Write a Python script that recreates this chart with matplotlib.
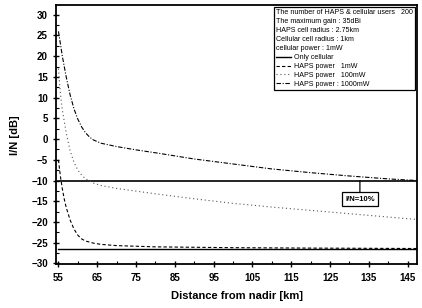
import matplotlib
matplotlib.use("Agg")
import matplotlib.pyplot as plt
from matplotlib.ticker import MultipleLocator

plt.rcParams['font.family'] = ['Liberation Sans', 'DejaVu Sans']

x_1w = [55, 55.5, 56, 56.5, 57, 58, 59, 60, 61, 62, 64, 66, 70, 80, 90, 100, 120, 147.5]
y_1w = [-5, -9, -12, -14.5, -16.5, -19.5, -21.7, -23.2, -24.1, -24.6, -25.1, -25.4, -25.7,
        -26.0, -26.1, -26.2, -26.3, -26.4]

x_100 = [55, 55.5, 56, 57, 58, 59, 60, 61, 62, 64, 66, 70, 80, 90, 100, 110, 120, 130, 140, 147.5]
y_100 = [17, 11, 7, 1.5, -2.8, -5.6, -7.5, -8.7, -9.6, -10.6, -11.2, -11.9, -13.2, -14.4, -15.5,
         -16.4, -17.2, -18.0, -18.8, -19.4]

x_1000 = [55, 56, 57, 58, 59, 60, 61, 62, 63, 64, 66, 70, 75, 80, 90, 100, 110, 120, 130, 140, 147.5]
y_1000 = [26, 20, 15, 10.7, 7.3, 4.8, 2.9, 1.5, 0.5, -0.2, -1.0, -1.8, -2.6, -3.3, -4.8, -6.0,
          -7.2, -8.1, -8.9, -9.6, -10.0]

cellular_level = -26.6
threshold = -10
x_range = [55, 147.5]

fig = plt.figure(figsize=(4.22, 3.08), dpi=100)
ax = fig.add_axes([0.133, 0.142, 0.855, 0.841])

ax.plot(x_range, [threshold, threshold], color='black', lw=1.2)
ax.plot(x_range, [cellular_level, cellular_level], color='black', lw=1.0, label='Only cellular')
ax.plot(x_1w, y_1w, color='black', lw=0.8, ls=(0, (3, 2)), label='HAPS power   1mW')
ax.plot(x_100, y_100, color='#555555', lw=0.8, ls=(0, (1, 2.5)), label='HAPS power   100mW')
ax.plot(x_1000, y_1000, color='black', lw=0.8, ls=(0, (4, 1.5, 1, 1.5)), label='HAPS power : 1000mW')

ax.annotate('I/N=10%', xy=(132.7, threshold), xytext=(132.7, -14.5),
            ha='center', va='center', fontsize=5.5, fontweight='bold',
            bbox=dict(boxstyle='square,pad=0.45', fc='white', ec='black', lw=0.9),
            arrowprops=dict(arrowstyle='-', color='black', lw=0.9, shrinkA=0, shrinkB=0))

info = ("The number of HAPS & cellular users   200\n"
        "The maximum gain : 35dBi\n"
        "HAPS cell radius : 2.75km\n"
        "Cellular cell radius : 1km\n"
        "cellular power : 1mW")
leg = ax.legend(loc='upper right', title=info, fontsize=5.1, title_fontsize=5.1,
                frameon=True, fancybox=False, edgecolor='black', framealpha=1,
                borderaxespad=0.3, handlelength=2.2, handletextpad=0.4,
                labelspacing=0.25, borderpad=0.3)
leg._legend_box.align = 'left'
leg.get_title().set_linespacing(1.4)
leg.get_frame().set_linewidth(0.9)

ax.set_xlim(54.4, 147.4)
ax.set_ylim(-30.2, 32.3)
ax.set_xticks(range(55, 150, 10))
ax.xaxis.set_minor_locator(MultipleLocator(5))
ax.yaxis.set_major_locator(MultipleLocator(5))
ax.yaxis.set_minor_locator(MultipleLocator(2.5))
ax.tick_params(which='major', direction='inout', length=5, width=1, labelsize=7)
ax.tick_params(which='minor', direction='in', length=2.5, width=0.8)
for lab in ax.get_xticklabels() + ax.get_yticklabels():
    lab.set_fontweight('bold')
for sp in ax.spines.values():
    sp.set_linewidth(1.3)

ax.set_xlabel('Distance from nadir [km]', fontsize=8, fontweight='bold', labelpad=6)
ax.set_ylabel('I/N [dB]', fontsize=8, fontweight='bold', labelpad=8)

fig.savefig('out.png', dpi=100)
